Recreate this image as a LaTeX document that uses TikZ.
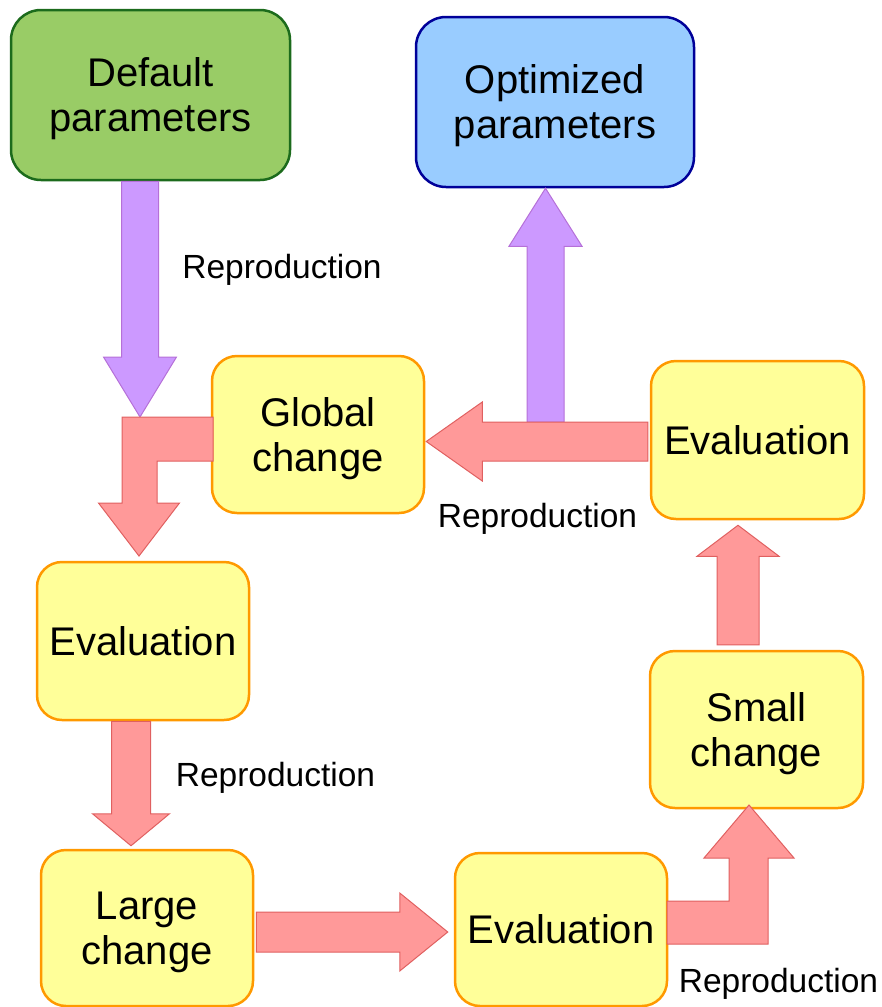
\documentclass[tikz,border=0pt]{standalone}
\usepackage{fontspec}
\setmainfont{Liberation Sans}
\usetikzlibrary{calc}

\definecolor{greenfill}{HTML}{99CC66}
\definecolor{greenline}{HTML}{1C6B1C}
\definecolor{bluefill}{HTML}{99CCFF}
\definecolor{blueline}{HTML}{000099}
\definecolor{yellowfill}{HTML}{FFFF99}
\definecolor{orangeline}{HTML}{FF9900}
\definecolor{redfill}{HTML}{FF9999}
\definecolor{redline}{HTML}{E06060}
\definecolor{purplefill}{HTML}{CC99FF}
\definecolor{purpleline}{HTML}{B570D8}

% straight block arrow: style, start, tip, shaft half-width, head half-width, head length
\newcommand\blockarrow[6]{%
  \coordinate (headbase) at ($(#3)!#6!(#2)$);
  \filldraw[#1]
    ($(#2)!#4!90:(#3)$) -- ($(headbase)!#4!90:(#3)$) -- ($(headbase)!#5!90:(#3)$)
    -- (#3)
    -- ($(headbase)!#5!-90:(#3)$) -- ($(headbase)!#4!-90:(#3)$) -- ($(#2)!#4!-90:(#3)$)
    -- cycle;}

% last line of a two-line box: its descender does not count for centring
\newcommand\nodepth[1]{\raisebox{0pt}[\height][0pt]{#1}}

\tikzset{
  box/.style={rectangle, line width=2.5pt, align=center, inner sep=0pt,
    font=\fontsize{40}{45}\selectfont},
  stepbox/.style={box, rounded corners=25pt, fill=yellowfill, draw=orangeline,
    minimum width=212pt, minimum height=157pt},
  startbox/.style={box, rounded corners=30pt, fill=greenfill, draw=greenline,
    minimum width=279pt, minimum height=170pt},
  endbox/.style={box, rounded corners=30pt, fill=bluefill, draw=blueline,
    minimum width=278pt, minimum height=170pt},
  redarrow/.style={fill=redfill, draw=redline, line width=1pt, line join=miter},
  purplearrow/.style={fill=purplefill, draw=purpleline, line width=1pt, line join=miter},
  label/.style={font=\fontsize{33.5}{38}\selectfont, anchor=base, inner sep=0pt}
}

\begin{document}
\begin{tikzpicture}[x=1pt, y=-1pt]
\useasboundingbox (0,0) rectangle (882,1007);

% boxes
\node[startbox] (def)   at (150.5,95)  {Default\\\nodepth{parameters}};
\node[endbox]   (opt)   at (555,102)   {Optimized\\\nodepth{parameters}};
\node[stepbox]  (glob)  at (318,434.5) {Global\\\nodepth{change}};
\node[stepbox, minimum width=213pt, minimum height=158pt] (evR) at (757.5,440) {Evaluation};
\node[stepbox, minimum height=158pt] (evL) at (143,641) {Evaluation};
\node[stepbox, minimum width=213pt] (small) at (756.5,729.5) {Small\\\nodepth{change}};
\node[stepbox, minimum height=156pt] (large) at (147,928) {Large\\\nodepth{change}};
\node[stepbox, minimum height=153pt] (evB) at (561,929.5) {Evaluation};

% arrow end points
\coordinate (a1s) at ($(def.south)+(-10.5,0)$);
\coordinate (a1e) at (140,417);
\coordinate (a3s) at (545.5,422);
\coordinate (a3e) at ($(opt.south)+(-9.5,0)$);
\coordinate (a4s) at ($(evR.west)+(-2,1.5)$);
\coordinate (a4e) at ($(glob.east)+(1,7)$);
\coordinate (a5s) at ($(small.north)+(-18.5,-5)$);
\coordinate (a5e) at ($(evR.south)+(-19.5,5)$);
\coordinate (a7s) at ($(large.east)+(2,4)$);
\coordinate (a7e) at ($(evB.west)+(-6,2.5)$);
\coordinate (a8s) at ($(evL.south)+(-12,0)$);
\coordinate (a8e) at ($(large.north)+(-16,-3)$);

% purple arrows
\blockarrow{purplearrow}{a1s}{a1e}{18.5pt}{36.5pt}{60pt}
\blockarrow{purplearrow}{a3s}{a3e}{18.5pt}{36.5pt}{58pt}

% red arrows
\blockarrow{redarrow}{a4s}{a4e}{19.5pt}{39.5pt}{56pt}
\blockarrow{redarrow}{a5s}{a5e}{21pt}{41pt}{31pt}
\blockarrow{redarrow}{a7s}{a7e}{20pt}{39pt}{48pt}
\blockarrow{redarrow}{a8s}{a8e}{19.5pt}{38.5pt}{32pt}

% bent arrow from Global change down to Evaluation
\filldraw[redarrow] (213,417) -- (122,417) -- (122,503) -- (98.5,503) -- (139,556)
  -- (179.5,503) -- (157,503) -- (157,461) -- (213,461) -- cycle;

% bent arrow from Evaluation up to Small change
\filldraw[redarrow] (667,901) -- (729,901) -- (729,858) -- (704,858) -- (749,805)
  -- (794,858) -- (768,858) -- (768,944) -- (667,944) -- cycle;

% labels
\node[label] (l1) at (282,278)   {Reproduction};
\node[label] (l2) at (537.5,527) {Reproduction};
\node[label] (l3) at (275.5,786) {Reproduction};
\node[label] (l4) at (778.5,992) {Reproduction};
\end{tikzpicture}
\end{document}
